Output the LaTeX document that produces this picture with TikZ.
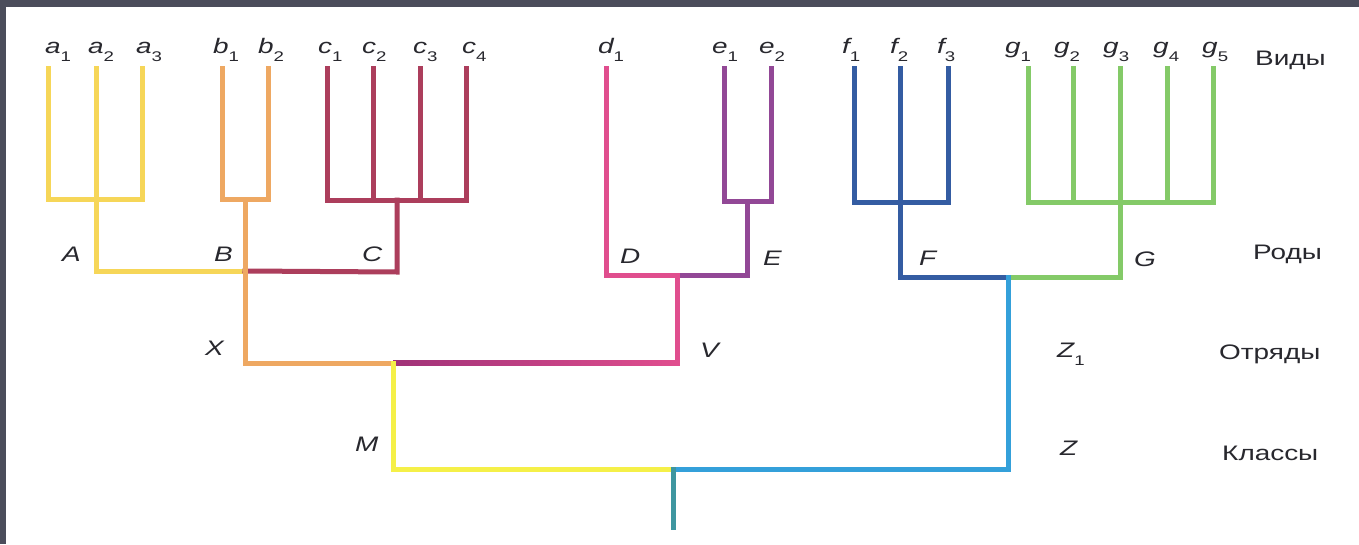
\documentclass[tikz,border=0pt]{standalone}
\usepackage{graphicx}
\usepackage{fontspec}
\setmainfont{Liberation Sans}
\definecolor{ink}{RGB}{40,40,46}
\definecolor{frame}{RGB}{75,77,91}
\definecolor{cA}{RGB}{246,214,88}
\definecolor{cB}{RGB}{238,168,98}
\definecolor{cC}{RGB}{172,62,92}
\definecolor{cD}{RGB}{224,78,142}
\definecolor{cE}{RGB}{146,72,150}
\definecolor{cF}{RGB}{52,92,162}
\definecolor{cG}{RGB}{132,202,104}
\definecolor{cZ}{RGB}{52,160,218}
\definecolor{cM}{RGB}{245,240,72}
\definecolor{cR}{RGB}{62,150,160}
\definecolor{cXm}{RGB}{160,50,120}
% subscript digit, set low and upright
\newcommand\sbs[1]{\raisebox{-0.42em}{\upshape\fontsize{14}{14}\selectfont #1}}
% the lettering is a wide grotesque: stretch horizontally
\newcommand\widen[1]{\scalebox{1.33}[1]{#1}}
\begin{document}
\begin{tikzpicture}[x=1pt,y=-1pt,
  br/.style={line width=5pt,line join=miter,line cap=rect},
  sp/.style={font=\fontsize{21}{24}\selectfont\itshape,text=ink,inner sep=0pt,anchor=base west},
  rank/.style={font=\fontsize{21}{24}\selectfont,text=ink,inner sep=0pt,anchor=base west}]
\useasboundingbox (0,0) rectangle (1359,544);
\fill[frame] (0,0) rectangle (1359,544);
\fill[white] (6,7) rectangle (1359,544);

% leaf tips (species)
\foreach \n/\x in {a1/48,a2/96,a3/142,b1/222,b2/268,c1/327,c2/373,c3/420,c4/466,
                   d1/606,e1/724,e2/771,f1/854,f2/900,f3/948,
                   g1/1028,g2/1073,g3/1120,g4/1167,g5/1213}
  \coordinate (\n) at (\x,68);
% bar levels
\coordinate (barA) at (0,199);
\coordinate (barC) at (0,200);
\coordinate (barE) at (0,201);
\coordinate (barF) at (0,202);
% genus joints
\coordinate (A) at (96,271);
\coordinate (B) at (245,271);
\coordinate (Bj) at (245,199);
\coordinate (Cj) at (397,200);
\coordinate (C) at (397,272);
\coordinate (Dh) at (606,275);
\coordinate (Dj) at (677,275);
\coordinate (Ej) at (747,201);
\coordinate (Eh) at (747,275);
\coordinate (Fh) at (900,277);
\coordinate (Fz) at (1008,277);
\coordinate (Gh) at (1120,277);
% order and class joints
\coordinate (X) at (245,363);
\coordinate (Mj) at (393,363);
\coordinate (V) at (677,363);
\coordinate (Mh) at (393,469);
\coordinate (R) at (673,469);
\coordinate (Zh) at (1008,469);
\coordinate (root) at (673,527);

% group a
\draw[br,cA] (a1) -- (a1|-barA) -- (a3|-barA) -- (a3);
\draw[br,cA] (a2) -- (A) -- (B);
% group c
\draw[br,cC] (c1) -- (c1|-barC) -- (c4|-barC) -- (c4);
\draw[br,cC] (c2) -- (c2|-barC);
\draw[br,cC] (c3) -- (c3|-barC);
\draw[br,cC] (Cj) -- (C) -- (B);
% group b
\draw[br,cB] (b1) -- (b1|-barA) -- (b2|-barA) -- (b2);
\draw[br,cB] (Bj) -- (X) -- (Mj);
% order line X--V
\shade[left color=cXm,right color=cD] ([yshift=2.5pt]Mj) rectangle ([yshift=-2.5pt]V);
% group d, e
\draw[br,cE] (e1) -- (e1|-barE) -- (e2|-barE) -- (e2);
\draw[br,cE] (Ej) -- (Eh) -- (Dj);
\draw[br,cD] (d1) -- (Dh) -- (Dj) -- (V);
% class M
\draw[br,cM] (Mj) -- (Mh) -- (R);
% group f, g
\draw[br,cF] (f1) -- (f1|-barF) -- (f3|-barF) -- (f3);
\draw[br,cG] (g1) -- (g1|-barF) -- (g5|-barF) -- (g5);
\draw[br,cG] (g2) -- (g2|-barF);
\draw[br,cG] (g4) -- (g4|-barF);
\draw[br,cG] (g3) -- (Gh) -- (Fz);
\draw[br,cF] (f2) -- (Fh) -- (Fz);
% class Z
\draw[br,cZ] (Fz) -- (Zh) -- (R);
\draw[br,cR] (R) -- (root);

% species labels
\node[sp] (la1) at (45,53) {\widen{a\sbs{1}}};
\node[sp] (la2) at (88,53) {\widen{a\sbs{2}}};
\node[sp] (la3) at (136,53) {\widen{a\sbs{3}}};
\node[sp] (lb1) at (213,53) {\widen{b\sbs{1}}};
\node[sp] (lb2) at (258,53) {\widen{b\sbs{2}}};
\node[sp] (lc1) at (318,53) {\widen{c\sbs{1}}};
\node[sp] (lc2) at (362,53) {\widen{c\sbs{2}}};
\node[sp] (lc3) at (413,53) {\widen{c\sbs{3}}};
\node[sp] (lc4) at (462,53) {\widen{c\sbs{4}}};
\node[sp] (ld1) at (598,53) {\widen{d\sbs{1}}};
\node[sp] (le1) at (712,53) {\widen{e\sbs{1}}};
\node[sp] (le2) at (759,53) {\widen{e\sbs{2}}};
\node[sp] (lf1) at (842,53) {\widen{f\sbs{1}}};
\node[sp] (lf2) at (890,53) {\widen{f\sbs{2}}};
\node[sp] (lf3) at (937,53) {\widen{f\sbs{3}}};
\node[sp] (lg1) at (1005,53) {\widen{g\sbs{1}}};
\node[sp] (lg2) at (1054,53) {\widen{g\sbs{2}}};
\node[sp] (lg3) at (1103,53) {\widen{g\sbs{3}}};
\node[sp] (lg4) at (1153,53) {\widen{g\sbs{4}}};
\node[sp] (lg5) at (1202,53) {\widen{g\sbs{5}}};
% genus, order, class labels
\node[sp] (lA) at (62,261) {\widen{A}};
\node[sp] (lB) at (214,261) {\widen{B}};
\node[sp] (lC) at (362,261) {\widen{C}};
\node[sp] (lD) at (620,263) {\widen{D}};
\node[sp] (lE) at (763,265) {\widen{E}};
\node[sp] (lF) at (919,265) {\widen{F}};
\node[sp] (lG) at (1134,266) {\widen{G}};
\node[sp] (lX) at (205,355) {\widen{X}};
\node[sp] (lV) at (700,357) {\widen{V}};
\node[sp] (lZ1) at (1057,357) {\widen{Z\sbs{1}}};
\node[sp] (lM) at (355,451) {\widen{M}};
\node[sp] (lZ) at (1060,455) {\widen{Z}};
% rank names
\node[rank] (r1) at (1255,65) {\widen{Виды}};
\node[rank] (r2) at (1253,259) {\widen{Роды}};
\node[rank] (r3) at (1219,359) {\widen{Отряды}};
\node[rank] (r4) at (1222,460) {\widen{Классы}};
\end{tikzpicture}
\end{document}
